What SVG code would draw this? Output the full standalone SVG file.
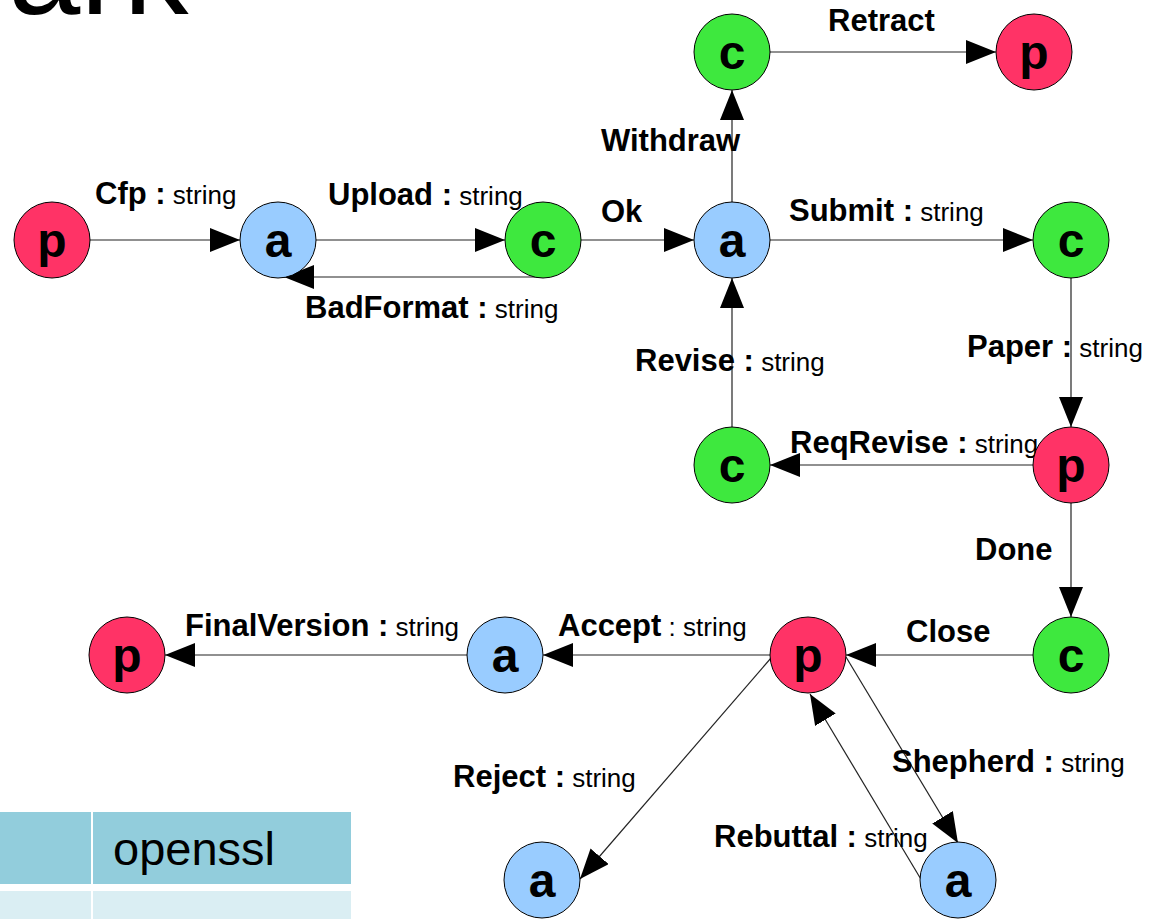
<svg xmlns="http://www.w3.org/2000/svg" width="1159" height="919" viewBox="0 0 1159 919">
  <style>
    .node circle { stroke: #000; stroke-width: 1; }
    .p circle { fill: #ff3366; }
    .a circle { fill: #99ccff; }
    .c circle { fill: #3ee83e; }
    .node text { font-family: "Liberation Sans", Arial, sans-serif; font-weight: bold; font-size: 48px; text-anchor: middle; fill: #000; }
    .edge { stroke: #222; stroke-width: 1.2; fill: none; marker-end: url(#head); }
    .lbl { font-family: "Liberation Sans", Arial, sans-serif; fill: #000; }
    .b { font-weight: bold; font-size: 31px; }
    .r { font-weight: normal; font-size: 26px; }
  </style>
  <defs>
    <marker id="head" markerUnits="userSpaceOnUse" markerWidth="31" markerHeight="26" refX="30" refY="12" orient="auto">
      <path d="M0,0 L30,12 L0,24 Z" fill="#000"/>
    </marker>
  </defs>

  <rect width="1159" height="919" fill="#fff"/>

  <!-- slide title fragment -->
  <text x="8" y="14" font-family="Liberation Sans, Arial, sans-serif" font-size="130" fill="#000">ark</text>

  <!-- table fragment -->
  <g id="table">
    <rect x="0" y="812" width="91" height="72" fill="#92cddc"/>
    <rect x="93" y="812" width="258" height="72" fill="#92cddc"/>
    <rect x="0" y="891" width="91" height="28" fill="#daeef3"/>
    <rect x="93" y="891" width="258" height="28" fill="#daeef3"/>
    <text x="113" y="865" font-family="Liberation Sans, Arial, sans-serif" font-size="47" fill="#000">openssl</text>
  </g>

  <!-- connectors -->
  <g id="connectors">
    <line class="edge" x1="90" y1="240" x2="240" y2="240"/>
    <line class="edge" x1="316" y1="240" x2="505" y2="240"/>
    <polyline class="edge" points="543,277 284,277"/>
    <line class="edge" x1="581" y1="240" x2="694" y2="240"/>
    <line class="edge" x1="732" y1="202" x2="732" y2="90"/>
    <line class="edge" x1="770" y1="52" x2="996" y2="52"/>
    <line class="edge" x1="770" y1="240" x2="1033" y2="240"/>
    <line class="edge" x1="1071" y1="278" x2="1071" y2="427"/>
    <line class="edge" x1="1033" y1="465" x2="770" y2="465"/>
    <line class="edge" x1="732" y1="427" x2="732" y2="278"/>
    <line class="edge" x1="1071" y1="503" x2="1071" y2="617"/>
    <line class="edge" x1="1033" y1="655" x2="846" y2="655"/>
    <line class="edge" x1="770" y1="655" x2="543" y2="655"/>
    <line class="edge" x1="467" y1="655" x2="165" y2="655"/>
    <line class="edge" x1="771" y1="658" x2="580" y2="879"/>
    <line class="edge" x1="846" y1="657" x2="958" y2="843"/>
    <line class="edge" x1="922" y1="881" x2="810" y2="694"/>
  </g>

  <!-- connector labels -->
  <g id="labels" class="lbl">
    <text x="95" y="204"><tspan class="b">Cfp :</tspan><tspan class="r"> string</tspan></text>
    <text x="328" y="205"><tspan class="b">Upload :</tspan><tspan class="r"> string</tspan></text>
    <text x="305" y="318"><tspan class="b">BadFormat :</tspan><tspan class="r"> string</tspan></text>
    <text x="601" y="222"><tspan class="b">Ok</tspan></text>
    <text x="601" y="151"><tspan class="b">Withdraw</tspan></text>
    <text x="828" y="31"><tspan class="b">Retract</tspan></text>
    <text x="789" y="221"><tspan class="b">Submit :</tspan><tspan class="r"> string</tspan></text>
    <text x="967" y="357"><tspan class="b">Paper :</tspan><tspan class="r"> string</tspan></text>
    <text x="635" y="371"><tspan class="b">Revise :</tspan><tspan class="r"> string</tspan></text>
    <text x="790" y="453"><tspan class="b">ReqRevise :</tspan><tspan class="r"> string</tspan></text>
    <text x="975" y="560"><tspan class="b">Done</tspan></text>
    <text x="906" y="642"><tspan class="b">Close</tspan></text>
    <text x="558" y="636"><tspan class="b">Accept</tspan><tspan class="r"> : string</tspan></text>
    <text x="185" y="636"><tspan class="b">FinalVersion :</tspan><tspan class="r"> string</tspan></text>
    <text x="453" y="787"><tspan class="b">Reject :</tspan><tspan class="r"> string</tspan></text>
    <text x="892" y="772"><tspan class="b">Shepherd :</tspan><tspan class="r"> string</tspan></text>
    <text x="714" y="847"><tspan class="b">Rebuttal :</tspan><tspan class="r"> string</tspan></text>
  </g>

  <!-- nodes -->
  <g id="n-p1" class="node p"><circle cx="52" cy="240" r="38"/><text x="52" y="257">p</text></g>
  <g id="n-a1" class="node a"><circle cx="278" cy="240" r="38"/><text x="278" y="257">a</text></g>
  <g id="n-c1" class="node c"><circle cx="543" cy="240" r="38"/><text x="543" y="257">c</text></g>
  <g id="n-a2" class="node a"><circle cx="732" cy="240" r="38"/><text x="732" y="257">a</text></g>
  <g id="n-c2" class="node c"><circle cx="732" cy="52" r="38"/><text x="732" y="69">c</text></g>
  <g id="n-p2" class="node p"><circle cx="1034" cy="52" r="38"/><text x="1034" y="69">p</text></g>
  <g id="n-c3" class="node c"><circle cx="1071" cy="240" r="38"/><text x="1071" y="257">c</text></g>
  <g id="n-p3" class="node p"><circle cx="1071" cy="465" r="38"/><text x="1071" y="482">p</text></g>
  <g id="n-c4" class="node c"><circle cx="732" cy="465" r="38"/><text x="732" y="482">c</text></g>
  <g id="n-c5" class="node c"><circle cx="1071" cy="655" r="38"/><text x="1071" y="672">c</text></g>
  <g id="n-p4" class="node p"><circle cx="808" cy="655" r="38"/><text x="808" y="672">p</text></g>
  <g id="n-a3" class="node a"><circle cx="505" cy="655" r="38"/><text x="505" y="672">a</text></g>
  <g id="n-p5" class="node p"><circle cx="127" cy="655" r="38"/><text x="127" y="672">p</text></g>
  <g id="n-a4" class="node a"><circle cx="542" cy="880" r="38"/><text x="542" y="897">a</text></g>
  <g id="n-a5" class="node a"><circle cx="958" cy="880" r="38"/><text x="958" y="897">a</text></g>
</svg>
